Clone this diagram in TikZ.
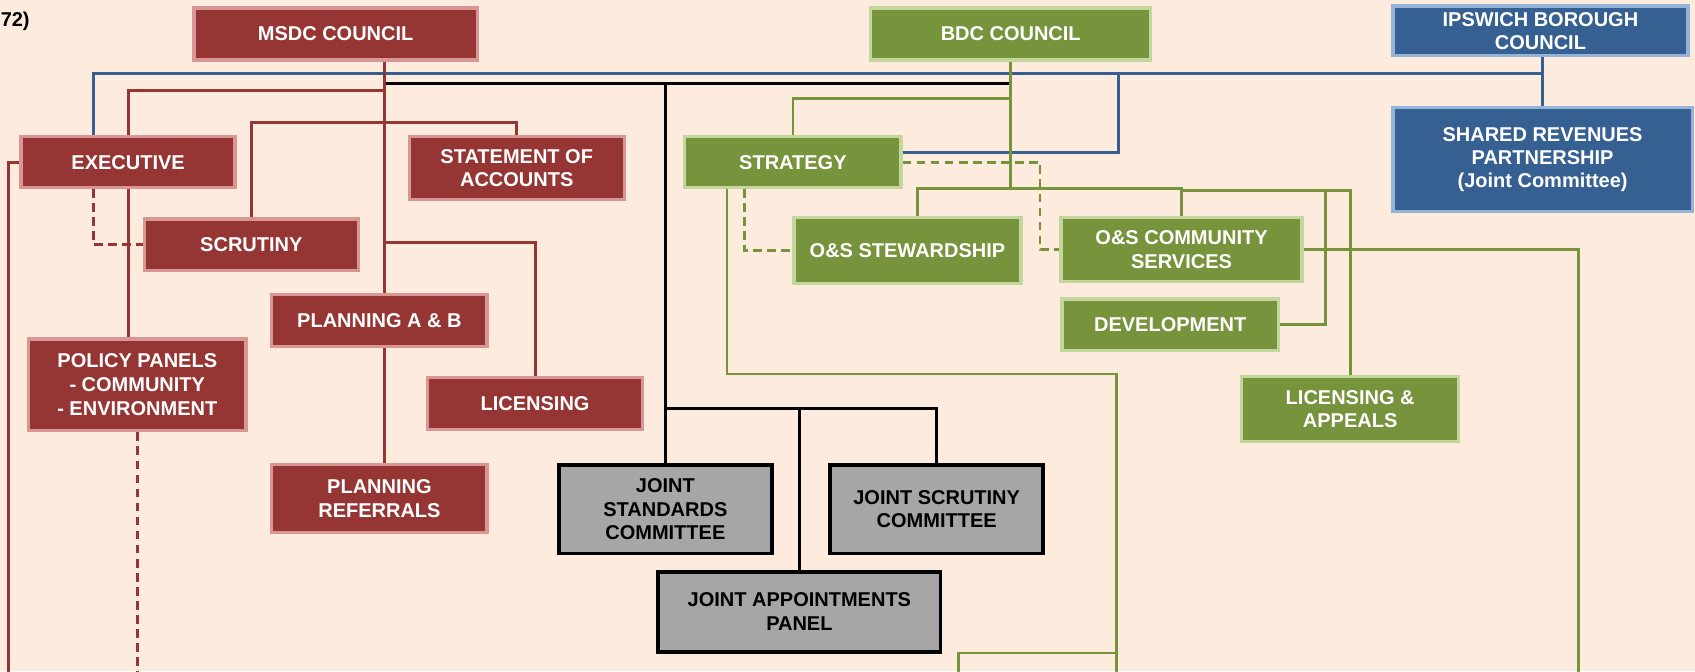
\documentclass[tikz,border=0pt]{standalone}
\usepackage{fontspec}
\setmainfont{Liberation Sans}
\usetikzlibrary{calc}

\definecolor{paper}{RGB}{253,236,222}
\definecolor{redfill}{RGB}{150,54,52}
\definecolor{rededge}{RGB}{217,150,148}
\definecolor{greenfill}{RGB}{119,147,60}
\definecolor{greenedge}{RGB}{195,214,155}
\definecolor{bluefill}{RGB}{54,96,146}
\definecolor{blueedge}{RGB}{149,179,215}
\definecolor{greyfill}{RGB}{166,166,166}

\pgfdeclarelayer{paperlayer}
\pgfdeclarelayer{wires}
\pgfsetlayers{paperlayer,wires,main}

\tikzset{
  orgbox/.style={rectangle, inner sep=2pt, align=center,
    font=\bfseries\fontsize{18.5}{22}\selectfont, line width=3pt},
  redbox/.style={orgbox, fill=redfill, draw=rededge, text=white},
  greenbox/.style={orgbox, fill=greenfill, draw=greenedge, text=white},
  bluebox/.style={orgbox, fill=bluefill, draw=blueedge, text=white,
    font=\bfseries\fontsize{18.5}{21}\selectfont},
  greybox/.style={orgbox, fill=greyfill, draw=black, line width=3.5pt, text=black},
  wire/.style={line width=2.6pt},
  redwire/.style={wire, draw=redfill},
  greenwire/.style={wire, draw=greenfill},
  bluewire/.style={wire, draw=bluefill},
  blackwire/.style={line width=2.9pt, draw=black},
  dashwire/.style={dash pattern=on 8pt off 5pt},
}

\begin{document}
\begin{tikzpicture}[x=1pt, y=-1pt]
\useasboundingbox (0,0) rectangle (1568,621);
\begin{pgfonlayer}{paperlayer}
  \fill[paper] (0,0) rectangle (1568,621);
\end{pgfonlayer}

% heading fragment at the top left
\node[anchor=west, inner sep=0pt, font=\bfseries\fontsize{18.5}{22}\selectfont] (tag) at (0.5,20) {72)};

% councils
\node[redbox, minimum width=262pt, minimum height=48pt] (msdc) at (310.5,31.5) {MSDC COUNCIL};
\node[greenbox, minimum width=259pt, minimum height=48pt] (bdc) at (935,31.5) {BDC COUNCIL};
\node[bluebox, minimum width=273pt, minimum height=46pt] (ipswich) at (1425,28.5) {IPSWICH BOROUGH\\COUNCIL};
\node[bluebox, minimum width=277pt, minimum height=96pt] (shared) at (1427,147.5) {SHARED REVENUES\\PARTNERSHIP\\(Joint Committee)};

% MSDC committees
\node[redbox, minimum width=198pt, minimum height=47pt] (exec) at (118.5,150) {EXECUTIVE};
\node[redbox, minimum width=199pt, minimum height=58pt] (stmt) at (478,155.5) {STATEMENT OF\\ACCOUNTS};
\node[redbox, minimum width=198pt, minimum height=48pt] (scrut) at (232.5,226.5) {SCRUTINY};
\node[redbox, minimum width=199pt, minimum height=48pt] (plab) at (351,296.5) {PLANNING A \& B};
\node[redbox, minimum width=201pt, minimum height=85pt] (policy) at (127,356) {POLICY PANELS\\- COMMUNITY\\- ENVIRONMENT};
\node[redbox, minimum width=199pt, minimum height=48pt] (lic) at (495,373.5) {LICENSING};
\node[redbox, minimum width=199pt, minimum height=63pt] (plref) at (351,461) {PLANNING\\REFERRALS};

% BDC committees
\node[greenbox, minimum width=200pt, minimum height=47pt] (strategy) at (733.5,150) {STRATEGY};
\node[greenbox, minimum width=210pt, minimum height=61pt] (stew) at (839.5,232) {O\&S STEWARDSHIP};
\node[greenbox, minimum width=223pt, minimum height=59pt] (comm) at (1093,231) {O\&S COMMUNITY\\SERVICES};
\node[greenbox, minimum width=200pt, minimum height=48pt] (dev) at (1082.5,300.5) {DEVELOPMENT};
\node[greenbox, minimum width=201pt, minimum height=60pt] (licapp) at (1249,378.5) {LICENSING \&\\APPEALS};

% joint bodies
\node[greybox, minimum width=197pt, minimum height=82pt] (jstand) at (615.5,471) {JOINT\\STANDARDS\\COMMITTEE};
\node[greybox, minimum width=197pt, minimum height=82pt] (jscrut) at (866.5,471) {JOINT SCRUTINY\\COMMITTEE};
\node[greybox, minimum width=261pt, minimum height=74pt] (jappt) at (739.5,566) {JOINT APPOINTMENTS\\PANEL};

% junction points
\coordinate (mtrunk) at (355.5,0);
\coordinate (lrail) at (8,625);

\begin{pgfonlayer}{wires}
  % shared revenues link
  \draw[bluewire] ($(exec.north)+(-32,0)$) |- (shared.north |- 0,68);
  \draw[bluewire] (shared.north |- ipswich.south) -- (shared.north);
  \draw[bluewire] ($(strategy.east)+(0,-9)$) -| (1035,68);

  % joint committees
  \draw[blackwire] (mtrunk |- 0,77) -- (bdc.south |- 0,77);
  \draw[blackwire] (jstand.north |- 0,77) -- (jstand.north);
  \draw[blackwire] (jstand.north |- 0,378) -| (jscrut.north);
  \draw[blackwire] (jappt.north |- 0,378) -- (jappt.north);

  % MSDC structure
  \draw[redwire] (msdc.south -| mtrunk) -- (plab.north -| mtrunk);
  \draw[redwire] (plab.south -| mtrunk) -- (plref.north -| mtrunk);
  \draw[redwire] (mtrunk |- 0,84) -| (exec.north);
  \draw[redwire] (exec.south) -- (exec.south |- policy.north);
  \draw[redwire] (scrut.north) |- (stmt.north |- 0,113) -- (stmt.north);
  \draw[redwire] (mtrunk |- 0,224.5) -| (lic.north);
  \draw[redwire] (exec.west) -| (lrail);
  \draw[redwire, dashwire] ($(exec.south)+(-32,0)$) |- (scrut.west);
  \draw[redwire, dashwire] (policy.south) -- (policy.south |- 0,625);

  % BDC structure
  \draw[greenwire] (bdc.south) -- (bdc.south |- 0,174);
  \draw[greenwire] (bdc.south |- 0,91) -| (strategy.north);
  \draw[greenwire] ($(stew.north)+(9.5,0)$) |- (comm.north |- 0,174) -- (comm.north);
  \draw[greenwire] (comm.north |- 0,176) -| (licapp.north);
  \draw[greenwire] (dev.east) -| (1226,176);
  \draw[greenwire] (comm.east) -| (1460,625);
  \draw[greenwire] ($(strategy.south)+(-61,0)$) |- (1033,346) -- (1033,625);
  \draw[greenwire] (1033,604) -| (887,625);
  \draw[greenwire, dashwire] ($(strategy.south)+(-45,0)$) |- (stew.west);
  \draw[greenwire, dashwire] (strategy.east) -| (962,231) -- (comm.west);
\end{pgfonlayer}
\end{tikzpicture}
\end{document}
